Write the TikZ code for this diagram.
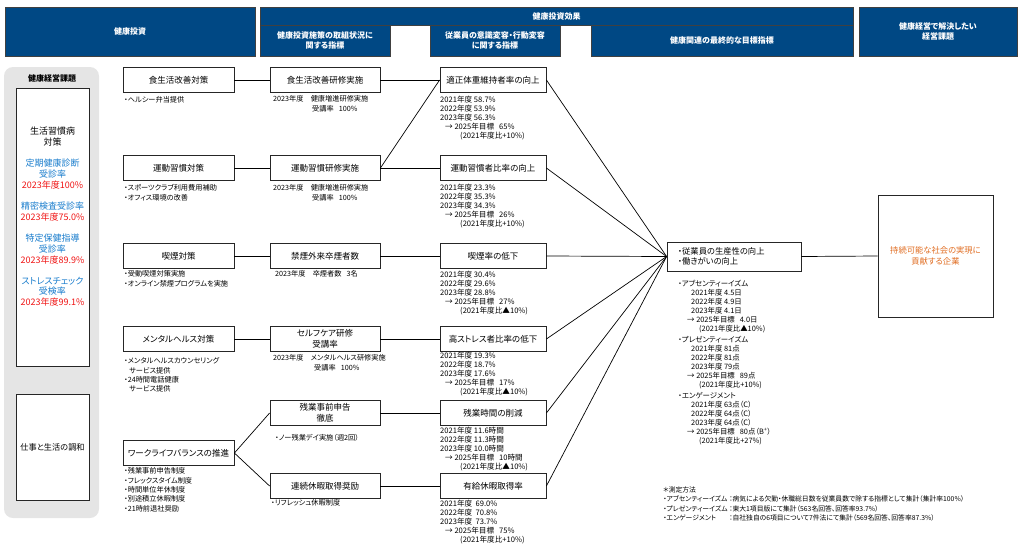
\documentclass[tikz,border=0pt]{standalone}
\usepackage{fontspec}
\setmainfont[RawFeature=+palt]{Noto Sans CJK JP}
\usetikzlibrary{positioning}

\definecolor{headBlue}{RGB}{0,72,132}
\definecolor{issueBlue}{RGB}{25,125,205}
\definecolor{issueRed}{RGB}{240,20,20}
\definecolor{goalOrange}{RGB}{225,110,35}
\definecolor{panelGray}{RGB}{229,229,229}

\tikzset{
  header/.style={draw=black!75, line width=0.8pt, fill=headBlue, text=white, inner sep=0pt,
    align=center, font=\fontsize{8}{10}\selectfont\bfseries},
  box/.style={draw=black!85, line width=0.8pt, fill=white, minimum height=25pt, inner sep=1pt,
    align=center, font=\fontsize{8.5}{11}\selectfont},
  measure/.style={box, minimum width=111pt},
  kpi/.style={box, minimum width=110pt},
  outcome/.style={box, minimum width=106pt},
  note/.style={anchor=north west, inner sep=0pt, align=left, font=\fontsize{7.2}{9.3}\selectfont},
  data/.style={anchor=north west, inner sep=0pt, align=left, font=\fontsize{7.6}{9}\selectfont},
  issue/.style={inner sep=0pt, align=center, text=issueBlue, font=\fontsize{9}{10.7}\selectfont},
  link/.style={draw=black, line width=0.7pt},
}

\begin{document}
\begin{tikzpicture}[x=1pt,y=-1pt]
% Parameters
\def\colA{178.5}
\def\colB{325}
\def\colC{493}
\def\rowA{80}
\def\rowB{168}
\def\rowC{256}
\def\rowD{339}
\def\gap{\hspace{5pt}}

\useasboundingbox (0,0) rectangle (1024,557);

% Header
\node[header, minimum width=250pt, minimum height=49pt] (hInvest) at (130,31.5) {健康投資};
\node[header, minimum width=593pt, minimum height=18pt] (hEffect) at (556.5,16) {健康投資効果};
\node[header, minimum width=130pt, minimum height=31pt] (hAction) at (325,40.5) {健康投資施策の取組状況に\\関する指標};
\node[header, minimum width=130pt, minimum height=31pt] (hChange) at (495,40.5) {従業員の意識変容・行動変容\\に関する指標};
\node[header, minimum width=262pt, minimum height=31pt] (hFinal) at (722,40.5) {健康関連の最終的な目標指標};
\node[header, minimum width=158pt, minimum height=49pt] (hIssue) at (938,31.5) {健康経営で解決したい\\経営課題};

% Issues panel
\node[fill=panelGray, rounded corners=9pt, minimum width=95pt, minimum height=451pt] (panel) at (51.5,292.5) {};
\node[font=\fontsize{8}{10}\selectfont\bfseries] (panelTitle) at (52,78) {健康経営課題};
\node[draw=black!85, line width=0.8pt, fill=white, minimum width=73pt, minimum height=278pt] (lifestyle) at (52.5,227) {};
\node[draw=black!85, line width=0.8pt, fill=white, minimum width=73pt, minimum height=106pt,
  font=\fontsize{8.2}{10}\selectfont] (balance) at (52.5,447) {仕事と生活の調和};
\node[issue, text=black] (lifeTitle) at (52.5,136.5) {生活習慣病\\対策};
\node[issue] (checkup) at (52.5,174) {定期健康診断\\受診率\\\textcolor{issueRed}{2023年度100\%}};
\node[issue] (detail) at (52.5,211.5) {精密検査受診率\\\textcolor{issueRed}{2023年度75.0\%}};
\node[issue] (guidance) at (52.5,249) {特定保健指導\\受診率\\\textcolor{issueRed}{2023年度89.9\%}};
\node[issue] (stress) at (52.5,291.5) {ストレスチェック\\受検率\\\textcolor{issueRed}{2023年度99.1\%}};

% Measures
\node[measure] (measDiet) at (\colA,\rowA) {食生活改善対策};
\node[measure] (measExercise) at (\colA,\rowB) {運動習慣対策};
\node[measure] (measSmoke) at (\colA,\rowC) {喫煙対策};
\node[measure] (measMental) at (\colA,\rowD) {メンタルヘルス対策};
\node[measure] (measBalance) at (\colA,453) {ワークライフバランスの推進};

\node[note] (measDietNote) at (124,96.5) {・ヘルシー弁当提供};
\node[note] (measExerciseNote) at (124,184.5) {・スポーツクラブ利用費用補助\\・オフィス環境の改善};
\node[note] (measSmokeNote) at (124,270.5) {・受動喫煙対策実施\\・オンライン禁煙プログラムを実施};
\node[note] (measMentalNote) at (124,357.5) {・メンタルヘルスカウンセリング\\\hspace*{5pt}サービス提供\\・24時間電話健康\\\hspace*{5pt}サービス提供};
\node[note] (measBalanceNote) at (124,467.5) {・残業事前申告制度\\・フレックスタイム制度\\・時間単位年休制度\\・別途積立休暇制度\\・21時前退社奨励};

% Action indicators
\node[kpi] (kpiDiet) at (\colB,\rowA) {食生活改善研修実施};
\node[kpi] (kpiExercise) at (\colB,\rowB) {運動習慣研修実施};
\node[kpi] (kpiSmoke) at (\colB,\rowC) {禁煙外来卒煙者数};
\node[kpi] (kpiMental) at (\colB,\rowD) {セルフケア研修\\受講率};
\node[kpi] (kpiOvertime) at (\colB,413) {残業事前申告\\徹底};
\node[kpi] (kpiLeave) at (\colB,486) {連続休暇取得奨励};

\node[data, font=\fontsize{7.2}{9.3}\selectfont] (kpiDietNote) at (273,95.5) {2023年度　健康増進研修実施\\\hspace*{39pt}受講率\gap 100\%};
\node[data, font=\fontsize{7.2}{9.3}\selectfont] (kpiExerciseNote) at (273,184.5) {2023年度　健康増進研修実施\\\hspace*{39pt}受講率\gap 100\%};
\node[data, font=\fontsize{7.2}{9.3}\selectfont] (kpiSmokeNote) at (275,270.5) {2023年度　卒煙者数\gap 3名};
\node[data, font=\fontsize{7.2}{9.3}\selectfont] (kpiMentalNote) at (273,354.5) {2023年度　メンタルヘルス研修実施\\\hspace*{41pt}受講率\gap 100\%};
\node[note] (kpiOvertimeNote) at (275,434.5) {・ノー残業デイ実施（週2回）};
\node[note] (kpiLeaveNote) at (271,499.5) {・リフレッシュ休暇制度};

% Behaviour indicators
\node[outcome] (outWeight) at (\colC,\rowA) {適正体重維持者率の向上};
\node[outcome] (outExercise) at (\colC,\rowB) {運動習慣者比率の向上};
\node[outcome] (outSmoke) at (\colC,\rowC) {喫煙率の低下};
\node[outcome] (outStress) at (\colC,\rowD) {高ストレス者比率の低下};
\node[outcome] (outOvertime) at (\colC,413) {残業時間の削減};
\node[outcome] (outLeave) at (\colC,486) {有給休暇取得率};

\node[data] (outWeightData) at (440,95.5) {2021年度 58.7\%\\2022年度 53.9\%\\2023年度 56.3\%\\\hspace*{5pt}→ 2025年目標\gap 65\%\\\hspace*{20pt}(2021年度比+10\%)};
\node[data] (outExerciseData) at (440,183.5) {2021年度 23.3\%\\2022年度 35.3\%\\2023年度 34.3\%\\\hspace*{5pt}→ 2025年目標\gap 26\%\\\hspace*{20pt}(2021年度比+10\%)};
\node[data] (outSmokeData) at (440,270.5) {2021年度 30.4\%\\2022年度 29.6\%\\2023年度 28.8\%\\\hspace*{5pt}→ 2025年目標\gap 27\%\\\hspace*{20pt}(2021年度比▲10\%)};
\node[data] (outStressData) at (440,351.5) {2021年度 19.3\%\\2022年度 18.7\%\\2023年度 17.6\%\\\hspace*{5pt}→ 2025年目標\gap 17\%\\\hspace*{20pt}(2021年度比▲10\%)};
\node[data] (outOvertimeData) at (440,426.5) {2021年度 11.6時間\\2022年度 11.3時間\\2023年度 10.0時間\\\hspace*{5pt}→ 2025年目標\gap 10時間\\\hspace*{20pt}(2021年度比▲10\%)};
\node[data] (outLeaveData) at (440,499.5) {2021年度\ \ 69.0\%\\2022年度\ \ 70.8\%\\2023年度\ \ 73.7\%\\\hspace*{5pt}→ 2025年目標\gap 75\%\\\hspace*{20pt}(2021年度比+10\%)};

% Final indicators
\node[box, minimum width=134pt, minimum height=29pt, text width=112pt, inner xsep=11pt, align=left,
  font=\fontsize{8.3}{9.6}\selectfont] (final) at (734,256.5) {・従業員の生産性の向上\\・働きがいの向上};
\node[data, font=\fontsize{7.4}{9}\selectfont] (absent) at (678,279.5) {・アブセンティーイズム\\\hspace*{13pt}2021年度 4.5日\\\hspace*{13pt}2022年度 4.9日\\\hspace*{13pt}2023年度 4.1日\\\hspace*{9pt}→ 2025年目標\gap 4.0日\\\hspace*{21pt}(2021年度比▲10\%)};
\node[data, font=\fontsize{7.4}{9}\selectfont] (present) at (678,336.5) {・プレゼンティーイズム\\\hspace*{13pt}2021年度 81点\\\hspace*{13pt}2022年度 81点\\\hspace*{13pt}2023年度 79点\\\hspace*{9pt}→ 2025年目標\gap 89点\\\hspace*{21pt}(2021年度比+10\%)};
\node[data, font=\fontsize{7.4}{9}\selectfont] (engage) at (678,392.5) {・エンゲージメント\\\hspace*{13pt}2021年度 63点（C）\\\hspace*{13pt}2022年度 64点（C）\\\hspace*{13pt}2023年度 64点（C）\\\hspace*{9pt}→ 2025年目標\gap 80点（B\textsuperscript{+}）\\\hspace*{21pt}(2021年度比+27\%)};

\node[note, font=\fontsize{6.8}{9.3}\selectfont] (method) at (663,486.5) {＊測定方法\\
\makebox[66pt][l]{・アブセンティーイズム}：病気による欠勤・休職総日数を従業員数で除する指標として集計（集計率100\%）\\
\makebox[66pt][l]{・プレゼンティーイズム}：東大1項目版にて集計（563名回答、回答率93.7\%）\\
\makebox[66pt][l]{・エンゲージメント}：自社独自の6項目について7件法にて集計（569名回答、回答率87.3\%）};

% Management issue
\node[box, minimum width=115pt, minimum height=122pt, text=goalOrange,
  font=\fontsize{8.3}{11}\selectfont] (goal) at (935.5,256) {持続可能な社会の実現に\\貢献する企業};

% Links
\draw[link] (measDiet.east) -- (kpiDiet.west);
\draw[link] (measExercise.east) -- (kpiExercise.west);
\draw[link] (measSmoke.east) -- (kpiSmoke.west);
\draw[link] (measMental.east) -- (kpiMental.west);
\draw[link] (measBalance.east) -- (kpiOvertime.west);
\draw[link] (measBalance.east) -- (kpiLeave.west);

\draw[link] (kpiDiet.east) -- (outWeight.west);
\draw[link] (kpiExercise.east) -- (outWeight.west);
\draw[link] (kpiExercise.east) -- (outExercise.west);
\draw[link] (kpiSmoke.east) -- (outSmoke.west);
\draw[link] (kpiMental.east) -- (outStress.west);
\draw[link] (kpiOvertime.east) -- (outOvertime.west);
\draw[link] (kpiLeave.east) -- (outLeave.west);

\foreach \out in {outWeight,outExercise,outSmoke,outStress,outOvertime,outLeave}
  \draw[link] (\out.east) -- (final.west);

\draw[link] (final.east) -- (goal.west);
\end{tikzpicture}
\end{document}
